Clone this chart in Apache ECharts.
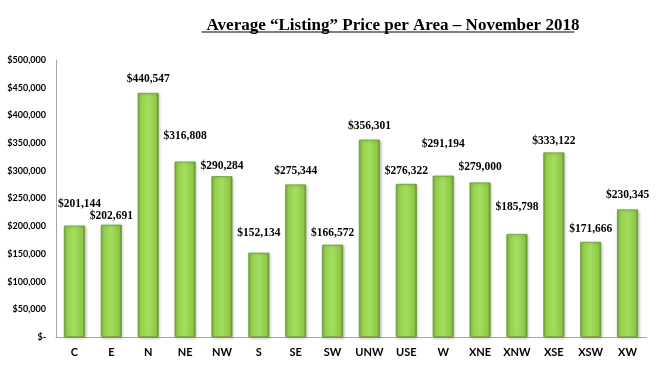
<!DOCTYPE html>
<html><head><meta charset="utf-8">
<script src="https://cdn.jsdelivr.net/npm/echarts@6/dist/echarts.min.js"></script>
<style>html,body{margin:0;padding:0;background:#fff}#c{width:672px;height:372px}</style>
</head><body><div id="c"></div>
<script>
const categories = ['C','E','N','NE','NW','S','SE','SW','UNW','USE','W','XNE','XNW','XSE','XSW','XW'];
const prices = [201144,202691,440547,316808,290284,152134,275344,166572,356301,276322,291194,279000,185798,333122,171666,230345];
const titleText = 'Average \u201cListing\u201d Price per Area \u2013 November 2018';
// manual label nudges (px, upward) as in the reference
const labelLift = [8,-5,0,11,-4,6,-1,-2,0,-1,18,1,13,-3,-1,0];
const labelShiftX = [5,0,0,0,0,0,0,0,0,0,0,0,0,0,0,0];

const fmt = v => '$' + v.toLocaleString('en-US');
const chart = echarts.init(document.getElementById('c'), null, {renderer:'canvas'});
const barData = prices.map((v,i)=>({value:v,label:{offset:[labelShiftX[i],-labelLift[i]]}}));
chart.setOption({
  animation:false,
  title:{text:titleText,left:388,top:12,textAlign:'center',
    textStyle:{fontFamily:'Liberation Serif',fontWeight:'bold',fontSize:17,color:'#000'}},
  grid:{left:56,right:26,top:60,bottom:35},
  xAxis:{type:'category',data:categories,
    axisLine:{lineStyle:{color:'#a6a6a6',width:1}},axisTick:{show:false},
    axisLabel:{fontFamily:'Lato',fontWeight:'bold',fontSize:11,color:'#000',margin:10}},
  yAxis:{type:'value',min:0,max:500000,interval:50000,
    axisLine:{show:true,lineStyle:{color:'#a6a6a6',width:1}},axisTick:{show:false},
    splitLine:{show:false},
    axisLabel:{fontFamily:'Lato',fontWeight:'bold',fontSize:9,color:'#000',margin:10,
      formatter:v=> v===0?'$-':fmt(v)}},
  series:[{type:'bar',data:barData,barWidth:21,
    itemStyle:{color:{type:'linear',x:0,y:0,x2:1,y2:0,colorStops:[
      {offset:0,color:'#6fa629'},{offset:0.12,color:'#93cf4c'},{offset:0.5,color:'#a4de5e'},
      {offset:0.88,color:'#8ec747'},{offset:1,color:'#5d8f22'}]},
      borderColor:'#6d9a36',borderWidth:0.8,
      shadowColor:'rgba(0,0,0,0.25)',shadowBlur:3,shadowOffsetX:1,shadowOffsetY:1},
    label:{show:true,position:'top',distance:8,formatter:p=>fmt(p.value),
      fontFamily:'Liberation Serif',fontWeight:'bold',fontSize:11.5,color:'#000'}}]
});
const tw = (()=>{const c=document.createElement('canvas').getContext('2d');c.font='bold 17px "Liberation Serif"';return c.measureText(titleText).width;})();
chart.setOption({graphic:[{type:'line',shape:{x1:388-tw/2,y1:32,x2:388+tw/2,y2:32},style:{stroke:'#000',lineWidth:1}}]});
</script></body></html>
